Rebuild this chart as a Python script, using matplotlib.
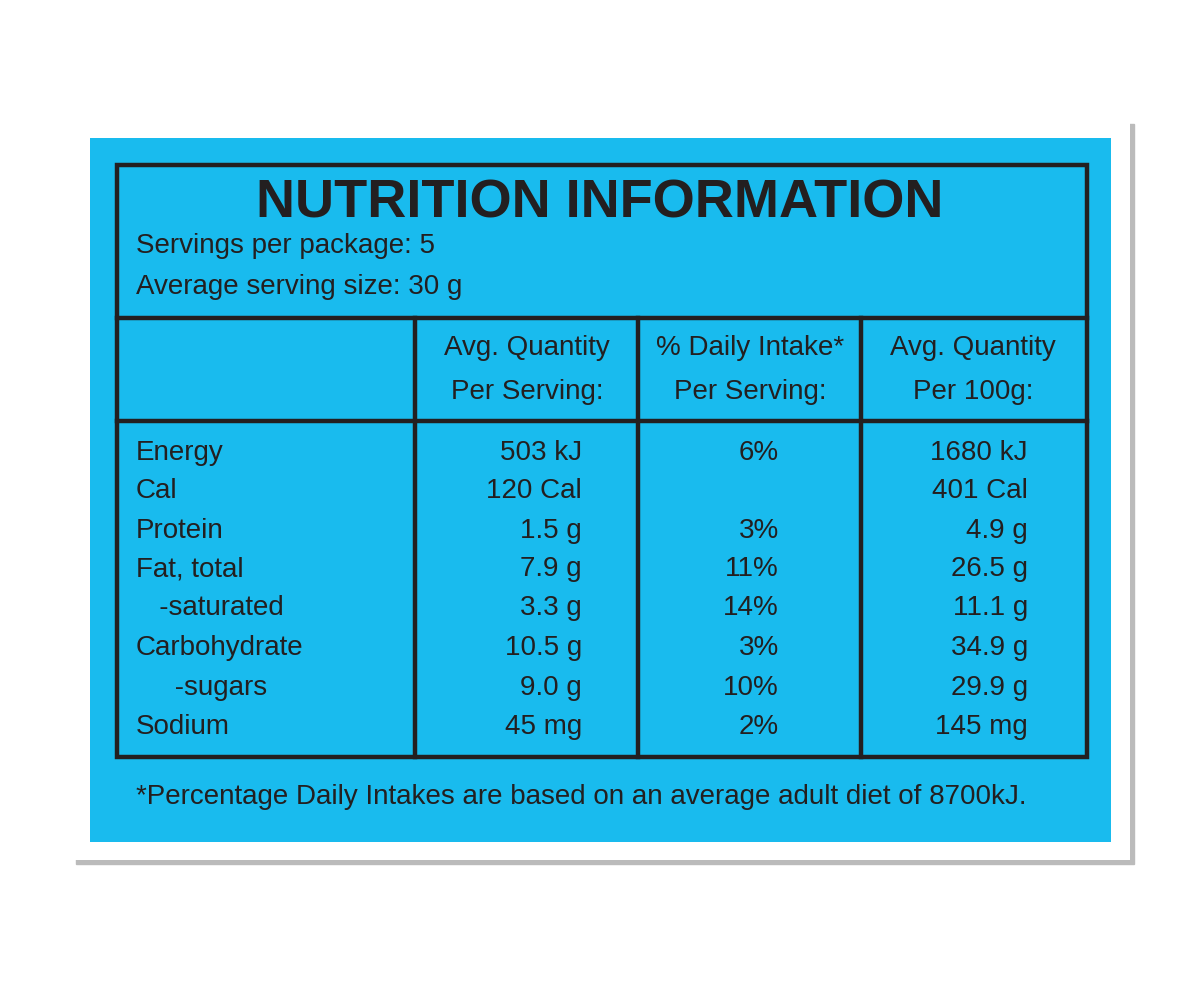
import matplotlib
matplotlib.use("Agg")
import matplotlib.pyplot as plt
from matplotlib.patches import Rectangle

title = "NUTRITION INFORMATION"
servings = "Servings per package: 5"
serving_size = "Average serving size: 30 g"
col_headers = [("Avg. Quantity", "Per Serving:"), ("% Daily Intake*", "Per Serving:"), ("Avg. Quantity", "Per 100g:")]
nutrients = ["Energy", "Cal", "Protein", "Fat, total", "   -saturated", "Carbohydrate", "     -sugars", "Sodium"]
per_serving = ["503 kJ", "120 Cal", "1.5 g", "7.9 g", "3.3 g", "10.5 g", "9.0 g", "45 mg"]
daily_intake = ["6%", "", "3%", "11%", "14%", "3%", "10%", "2%"]
per_100g = ["1680 kJ", "401 Cal", "4.9 g", "26.5 g", "11.1 g", "34.9 g", "29.9 g", "145 mg"]
footnote = "*Percentage Daily Intakes are based on an average adult diet of 8700kJ."

W, H = 1200, 981
fig = plt.figure(figsize=(W/100, H/100), dpi=100)
ax = fig.add_axes([0, 0, 1, 1])
ax.set_xlim(0, W); ax.set_ylim(H, 0); ax.axis("off")

ax.add_patch(Rectangle((76, 124), 1058, 740, color="#bbbbbb", zorder=0))
ax.add_patch(Rectangle((72, 120), 1058, 740, facecolor="white", zorder=1))
ax.add_patch(Rectangle((90, 138), 1021, 704, facecolor="#19BBEE", zorder=2))
lk = dict(color="#231F20", lw=3.2, zorder=3)
ax.add_patch(Rectangle((117, 165), 970, 592, fill=False, **lk))
ax.plot([117, 1087], [318, 318], **lk)
ax.plot([117, 1087], [421, 421], **lk)
for x in [415, 638, 861]:
    ax.plot([x, x], [318, 757], **lk)

fam = ["Liberation Sans Narrow", "Liberation Sans"]
tc = "#231F20"
ax.text(600, 203, title, ha="center", va="center", fontsize=39, fontweight="black",
        family="Liberation Sans", color=tc, zorder=4)
fs = 20
ax.text(136, 246, servings, ha="left", va="center", fontsize=fs, family=fam, color=tc, zorder=4)
ax.text(136, 287, serving_size, ha="left", va="center", fontsize=fs, family=fam, color=tc, zorder=4)
for cx, (a, b) in zip([527, 750, 973], col_headers):
    ax.text(cx, 348, a, ha="center", va="center", fontsize=fs, family=fam, color=tc, zorder=4)
    ax.text(cx, 392, b, ha="center", va="center", fontsize=fs, family=fam, color=tc, zorder=4)
ys = [453, 491, 531, 569, 608, 648, 688, 727]
for i, y in enumerate(ys):
    ax.text(136, y, nutrients[i], ha="left", va="center", fontsize=fs, family=fam, color=tc, zorder=4)
    ax.text(582, y, per_serving[i], ha="right", va="center", fontsize=fs, family=fam, color=tc, zorder=4)
    ax.text(779, y, daily_intake[i], ha="right", va="center", fontsize=fs, family=fam, color=tc, zorder=4)
    ax.text(1028, y, per_100g[i], ha="right", va="center", fontsize=fs, family=fam, color=tc, zorder=4)
ax.text(136, 797, footnote, ha="left", va="center", fontsize=fs, family=fam, color=tc, zorder=4)

fig.savefig("out.png", dpi=100)
